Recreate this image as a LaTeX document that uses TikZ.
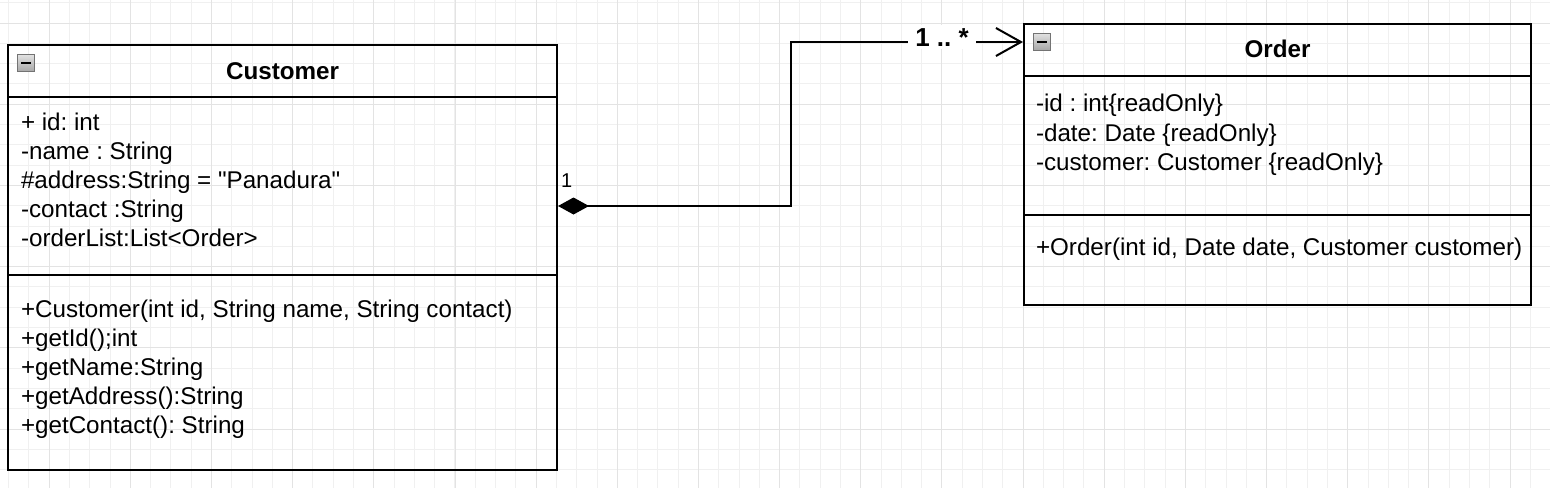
\documentclass[tikz,border=0pt]{standalone}
\usepackage{fontspec}
\setmainfont{Liberation Sans}[Ligatures=TeXOff]
\usetikzlibrary{arrows.meta}
\frenchspacing
\begin{document}
\begin{tikzpicture}[x=1pt,y=-1pt,
  gridminor/.style={draw=black!6,line width=1pt},
  gridmajor/.style={draw=black!11,line width=1pt},
  classbox/.style={draw=black,line width=2pt,inner sep=0pt},
  sepline/.style={draw=black,line width=2pt},
  icon/.style={draw=black!55,line width=1pt,top color=black!12,bottom color=black!35,minimum size=17pt,inner sep=0pt},
  txt/.style={inner sep=0pt,anchor=base west,font=\fontsize{24.2}{29}\selectfont},
  ttl/.style={inner sep=0pt,anchor=base,font=\fontsize{24.2}{29}\selectfont\bfseries},
  conn/.style={draw=black,line width=2pt},
  multlabel/.style={fill=white,inner xsep=7pt,inner ysep=3pt,anchor=base,font=\fontsize{26}{30}\selectfont\bfseries},
  smalllabel/.style={inner sep=0pt,anchor=base west,font=\fontsize{20}{24}\selectfont}
]
\useasboundingbox (0,0) rectangle (1550,488);
\fill[white] (0,0) rectangle (1550,488);
\begin{scope}
\clip (0,0) rectangle (1550,488);
\foreach \k in {0,...,76} \draw[gridminor] ({8.6+20.29*\k},0) -- ({8.6+20.29*\k},488);
\foreach \k in {0,...,23} \draw[gridminor] (0,{2.7+20.3*\k}) -- (1550,{2.7+20.3*\k});
\foreach \m in {0,...,18} \draw[gridmajor] ({49.2+81.16*\m},0) -- ({49.2+81.16*\m},488);
\foreach \m in {0,...,5} \draw[gridmajor] (0,{23+81.2*\m}) -- (1550,{23+81.2*\m});
\end{scope}

% Customer class
\node[classbox,minimum width=548.7pt,minimum height=425pt] (cust) at (282.65,257.5) {};
\draw[sepline] (8.3,97) -- (557,97);
\draw[sepline] (8.3,275) -- (557,275);
\node[icon] (custicon) at (26.2,63.4) {};
\draw[line width=2pt] ([xshift=-5pt]custicon.center) -- ([xshift=5pt]custicon.center);
\node[ttl] (custtitle) at (282.6,79.5) {Customer};
\node[txt] (ca1) at (20.8,130) {+ id: int};
\node[txt] (ca2) at (20.8,159) {-name : String};
\node[txt] (ca3) at (20.8,188) {\#address:String = "Panadura"};
\node[txt] (ca4) at (20.8,217) {-contact :String};
\node[txt] (ca5) at (20.8,246) {-orderList:List<Order>};
\node[txt] (cm1) at (20.8,317) {+Customer(int id, String name, String contact)};
\node[txt] (cm2) at (20.8,346) {+getId();int};
\node[txt] (cm3) at (20.8,375) {+getName:String};
\node[txt] (cm4) at (20.8,404) {+getAddress():String};
\node[txt] (cm5) at (20.8,433) {+getContact(): String};

% Order class
\node[classbox,minimum width=507pt,minimum height=281pt] (ord) at (1277.5,164.5) {};
\draw[sepline] (1024,76) -- (1531,76);
\draw[sepline] (1024,215) -- (1531,215);
\node[icon] (ordicon) at (1041.7,42) {};
\draw[line width=2pt] ([xshift=-5pt]ordicon.center) -- ([xshift=5pt]ordicon.center);
\node[ttl] (ordtitle) at (1277.5,57.5) {Order};
\node[txt] (oa1) at (1035.8,111.7) {-id : int\{readOnly\}};
\node[txt] (oa2) at (1035.8,141) {-date: Date \{readOnly\}};
\node[txt] (oa3) at (1035.8,170) {-customer: Customer \{readOnly\}};
\node[txt] (om1) at (1035.8,255) {+Order(int id, Date date, Customer customer)};

% Composition connector
\draw[conn,{Diamond[length=31pt,width=17pt]}-{Straight Barb[length=25pt,width=28pt]}]
  ([yshift=-162pt]cust.north east) -| ([xshift=-232pt,yshift=-19pt]ord.north west)
  -- ([yshift=-19pt]ord.north west);
\node[multlabel] (mult) at (942,46) {1 .. *};
\node[smalllabel] (one) at (561,187) {1};
\end{tikzpicture}
\end{document}
